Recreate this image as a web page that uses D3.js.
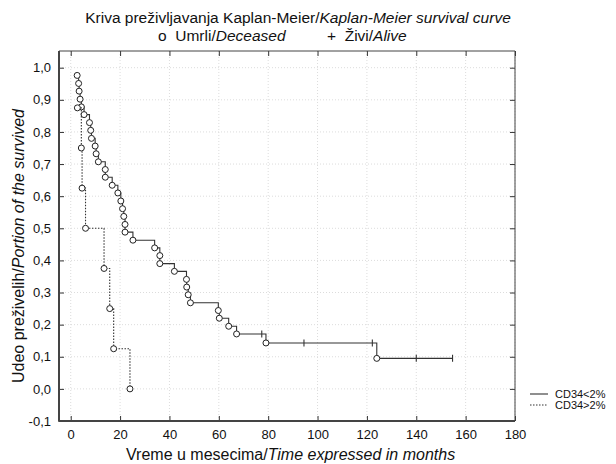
<!DOCTYPE html>
<html>
<head>
<meta charset="utf-8">
<script src="https://cdn.jsdelivr.net/npm/d3@7/dist/d3.min.js"></script>
<style>
body { margin: 0; background: #fff; }
svg { font-family: "Liberation Sans", Arial, sans-serif; }
</style>
</head>
<body>
<div id="chart-area"></div>
<script>
// Kaplan-Meier plot, two groups

const MARGIN = { LEFT: 59, RIGHT: 101, TOP: 51, BOTTOM: 43 }
const WIDTH = 616 - MARGIN.LEFT - MARGIN.RIGHT
const HEIGHT = 464 - MARGIN.TOP - MARGIN.BOTTOM

// CD34<2% (solid) - times in months, survival, status (d = died, c = censored)
const lowTimes = [2.6, 3.2, 3.4, 3.8, 4.3, 5.4, 7.6, 8.1, 8.4, 9.9, 10.3, 11.2, 14.0, 14.0,
	16.8, 19.1, 20.3, 21.0, 21.5, 22.0, 22.0, 25.2, 34.0, 36.1, 36.1, 42.0, 46.9, 47.0, 47.6,
	48.5, 59.8, 60.2, 64.0, 67.2, 77.4, 79.1, 94.5, 122.2, 124.0, 140.0, 154.7]
const lowSurv = [0.976, 0.951, 0.927, 0.902, 0.878, 0.854, 0.829, 0.805, 0.780, 0.756, 0.732,
	0.707, 0.683, 0.659, 0.634, 0.610, 0.585, 0.561, 0.537, 0.512, 0.488, 0.463, 0.439, 0.415,
	0.390, 0.366, 0.341, 0.317, 0.293, 0.268, 0.244, 0.220, 0.195, 0.171, 0.171, 0.143, 0.143,
	0.143, 0.095, 0.095, 0.095]
const lowStatus = ['d','d','d','d','d','d','d','d','d','d','d','d','d','d','d','d','d','d','d',
	'd','d','d','d','d','d','d','d','d','d','d','d','d','d','d','c','d','c','c','d','c','c']

// CD34>2% (dotted)
const highTimes = [2.7, 4.3, 4.6, 6.0, 13.5, 15.8, 17.4, 24.0]
const highSurv = [0.875, 0.750, 0.625, 0.500, 0.375, 0.250, 0.125, 0.000]
const highStatus = ['d','d','d','d','d','d','d','d']

const xTicks = [0, 20, 40, 60, 80, 100, 120, 140, 160, 180]
const yTicks = [-0.1, 0, 0.1, 0.2, 0.3, 0.4, 0.5, 0.6, 0.7, 0.8, 0.9, 1.0]
const yTickLabels = ['-0,1', '0,0', '0,1', '0,2', '0,3', '0,4', '0,5', '0,6', '0,7', '0,8', '0,9', '1,0']

const seriesNames = ['CD34<2%', 'CD34>2%']

const svg = d3.select('#chart-area').append('svg')
	.attr('width', 616)
	.attr('height', 464)

const g = svg.append('g')
	.attr('transform', `translate(${MARGIN.LEFT}, ${MARGIN.TOP})`)

const x = d3.scaleLinear()
	.domain([-4.75, 180])
	.range([0, WIDTH])

const y = d3.scaleLinear()
	.domain([-0.1, 1.052])
	.range([HEIGHT, 0])

// grid
g.selectAll('.vgrid').data(xTicks).enter().append('line')
	.attr('x1', d => x(d)).attr('x2', d => x(d))
	.attr('y1', 0).attr('y2', HEIGHT)
	.attr('stroke', '#dcdcdc')
	.attr('stroke-dasharray', '1,2')
g.selectAll('.hgrid').data(yTicks).enter().append('line')
	.attr('x1', 0).attr('x2', WIDTH)
	.attr('y1', d => y(d)).attr('y2', d => y(d))
	.attr('stroke', '#dcdcdc')
	.attr('stroke-dasharray', '1,2')

// axes (inner ticks on all four sides)
const xAxisGroup = g.append('g')
	.attr('transform', `translate(0, ${HEIGHT})`)
	.call(d3.axisBottom(x).tickValues(xTicks).tickSize(-5).tickPadding(9))
const xTopGroup = g.append('g')
	.call(d3.axisTop(x).tickValues(xTicks).tickSize(-5).tickFormat(''))
const yAxisGroup = g.append('g')
	.call(d3.axisLeft(y).tickValues(yTicks).tickSize(-5).tickPadding(8)
		.tickFormat((d, i) => yTickLabels[i]))
const yRightGroup = g.append('g')
	.attr('transform', `translate(${WIDTH}, 0)`)
	.call(d3.axisRight(y).tickValues(yTicks).tickSize(-5).tickFormat(''))

g.selectAll('.domain').remove()
g.selectAll('.tick line').attr('stroke', '#333')
g.selectAll('.tick text')
	.attr('font-size', '13px')
	.attr('font-family', '"Liberation Sans", Arial, sans-serif')
	.attr('fill', '#111')

// frame
g.append('line').attr('x1', 0).attr('x2', WIDTH).attr('y1', 0).attr('y2', 0)
	.attr('stroke', '#444').attr('stroke-width', 1)
g.append('line').attr('x1', WIDTH).attr('x2', WIDTH).attr('y1', 0).attr('y2', HEIGHT)
	.attr('stroke', '#444').attr('stroke-width', 1)
g.append('line').attr('x1', 0).attr('x2', 0).attr('y1', 0).attr('y2', HEIGHT + 0.5)
	.attr('stroke', '#444').attr('stroke-width', 2)
g.append('line').attr('x1', -0.5).attr('x2', WIDTH).attr('y1', HEIGHT).attr('y2', HEIGHT)
	.attr('stroke', '#444').attr('stroke-width', 2)

// build series
const series = [
	{ name: seriesNames[0], dash: null,
		points: lowTimes.map((t, i) => ({ t: t, s: lowSurv[i], status: lowStatus[i] })) },
	{ name: seriesNames[1], dash: '1.5,1.5',
		points: highTimes.map((t, i) => ({ t: t, s: highSurv[i], status: highStatus[i] })) }
]

const line = d3.line()
	.x(d => x(d.t))
	.y(d => y(d.s))
	.curve(d3.curveStepAfter)

series.forEach(sr => {
	g.append('path')
		.attr('d', line(sr.points))
		.attr('fill', 'none')
		.attr('stroke', '#333')
		.attr('stroke-width', 1.1)
		.attr('stroke-dasharray', sr.dash)

	// censored: vertical tick
	g.selectAll(null).data(sr.points.filter(p => p.status === 'c')).enter().append('line')
		.attr('x1', d => x(d.t)).attr('x2', d => x(d.t))
		.attr('y1', d => y(d.s) - 3.5).attr('y2', d => y(d.s) + 3.5)
		.attr('stroke', '#333')
		.attr('stroke-width', 1.1)

	// deaths: open circles
	g.selectAll(null).data(sr.points.filter(p => p.status === 'd')).enter().append('circle')
		.attr('cx', d => x(d.t))
		.attr('cy', d => y(d.s))
		.attr('r', 3)
		.attr('fill', '#fff')
		.attr('stroke', '#222')
		.attr('stroke-width', 1)
})

// title
const title1 = svg.append('text')
	.attr('x', 298)
	.attr('y', 23)
	.attr('text-anchor', 'middle')
	.attr('font-size', '15.5px')
	.attr('fill', '#111')
title1.append('tspan').text('Kriva preživljavanja Kaplan-Meier/')
title1.append('tspan').attr('font-style', 'italic').text('Kaplan-Meier survival curve')

const title2a = svg.append('text')
	.attr('x', 158)
	.attr('y', 41)
	.attr('font-size', '15.5px')
	.attr('fill', '#111')
	.style('white-space', 'pre')
title2a.append('tspan').text('o  Umrli/')
title2a.append('tspan').attr('font-style', 'italic').text('Deceased')

const title2b = svg.append('text')
	.attr('x', 327)
	.attr('y', 41)
	.attr('font-size', '15.5px')
	.attr('fill', '#111')
	.style('white-space', 'pre')
title2b.append('tspan').text('+  Živi/')
title2b.append('tspan').attr('font-style', 'italic').text('Alive')

// X label
const xLabel = svg.append('text')
	.attr('x', 126)
	.attr('y', 460)
	.attr('font-size', '16px')
	.attr('fill', '#111')
xLabel.append('tspan').text('Vreme u mesecima/')
xLabel.append('tspan').attr('font-style', 'italic').text('Time expressed in months')

// Y label
const yLabel = svg.append('text')
	.attr('transform', 'translate(24, 383) rotate(-90)')
	.attr('font-size', '16px')
	.attr('fill', '#111')
yLabel.append('tspan').text('Udeo preživelih/')
yLabel.append('tspan').attr('font-style', 'italic').text('Portion of the survived')

// legend
const legend = svg.append('g')
	.attr('transform', 'translate(530, 394)')
series.forEach((sr, i) => {
	legend.append('line')
		.attr('x1', 0).attr('x2', 18)
		.attr('y1', i * 11).attr('y2', i * 11)
		.attr('stroke', '#333')
		.attr('stroke-width', 1.1)
		.attr('stroke-dasharray', sr.dash)
	legend.append('text')
		.attr('x', 25)
		.attr('y', i * 11 + 4)
		.attr('font-size', '11px')
		.attr('fill', '#111')
		.text(sr.name)
})
</script>
</body>
</html>
